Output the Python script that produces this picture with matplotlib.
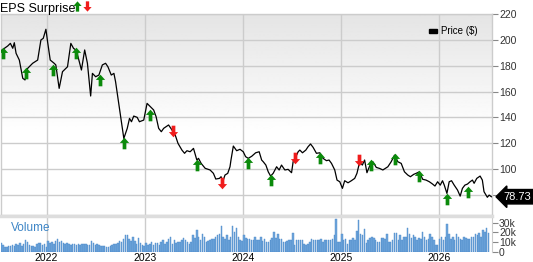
import numpy as np
import pandas as pd
import matplotlib
matplotlib.use('Agg')
import matplotlib.pyplot as plt
from matplotlib.path import Path
from matplotlib.transforms import blended_transform_factory

plt.rcParams['font.family'] = ['Liberation Sans', 'DejaVu Sans']

# price series (decimal year, price $)
price_t = [2021.536, 2021.604, 2021.631, 2021.655, 2021.671, 2021.689, 2021.722, 2021.757, 2021.780,
           2021.807, 2021.858, 2021.909, 2021.942, 2021.966, 2021.993, 2022.010, 2022.037, 2022.077,
           2022.094, 2022.128, 2022.162, 2022.213, 2022.247, 2022.274, 2022.297, 2022.320, 2022.355,
           2022.388, 2022.416, 2022.449, 2022.467, 2022.500, 2022.533, 2022.568, 2022.601, 2022.625,
           2022.659, 2022.686, 2022.703, 2022.787, 2022.822, 2022.845, 2022.865, 2022.888, 2022.923,
           2022.946, 2022.990, 2023.024, 2023.058, 2023.091, 2023.116, 2023.142, 2023.169, 2023.193,
           2023.243, 2023.278, 2023.311, 2023.339, 2023.379, 2023.406, 2023.430, 2023.463, 2023.497,
           2023.531, 2023.548, 2023.575, 2023.616, 2023.666, 2023.700, 2023.724, 2023.761, 2023.778,
           2023.795, 2023.818, 2023.846, 2023.869, 2023.879, 2023.903, 2023.937, 2023.971, 2024.004,
           2024.028, 2024.055, 2024.090, 2024.130, 2024.166, 2024.191, 2024.207, 2024.234, 2024.258,
           2024.282, 2024.308, 2024.343, 2024.369, 2024.393, 2024.427, 2024.460, 2024.495, 2024.511,
           2024.539, 2024.562, 2024.579, 2024.606, 2024.640, 2024.663, 2024.688, 2024.714, 2024.748,
           2024.782, 2024.815, 2024.850, 2024.876, 2024.901, 2024.934, 2024.957, 2024.985, 2025.012,
           2025.035, 2025.069, 2025.103, 2025.137, 2025.160, 2025.188, 2025.215, 2025.238, 2025.262,
           2025.289, 2025.322, 2025.357, 2025.391, 2025.424, 2025.475, 2025.509, 2025.543, 2025.576,
           2025.611, 2025.644, 2025.678, 2025.705, 2025.738, 2025.763, 2025.796, 2025.830, 2025.864,
           2025.898, 2025.931, 2025.955, 2025.982, 2026.009, 2026.032, 2026.050, 2026.077, 2026.100,
           2026.124, 2026.151, 2026.185, 2026.212, 2026.235, 2026.260, 2026.286, 2026.313, 2026.337,
           2026.354, 2026.381, 2026.415, 2026.438, 2026.455, 2026.489, 2026.507, 2026.530]
price_v = [191.6, 195.3, 197.3, 193.5, 197.8, 189.6, 184.4, 170.3, 169.0,
           178.0, 181.9, 184.4, 199.9, 201.2, 208.2, 198.6, 184.4, 181.9,
           180.6, 162.5, 175.4, 179.2, 197.3, 193.5, 192.2, 187.0, 176.7,
           192.2, 181.9, 156.6, 174.1, 171.5, 172.8, 180.6, 181.9, 179.2,
           172.8, 174.1, 167.6, 123.8, 131.6, 139.3, 136.7, 141.1, 140.1,
           136.7, 138.0, 150.9, 148.3, 145.8, 140.6, 131.6, 129.0, 131.6,
           134.2, 130.3, 126.4, 120.0, 114.8, 112.3, 114.3, 113.5, 116.1,
           107.1, 108.4, 104.5, 100.7, 99.4, 96.8, 92.4, 92.9, 94.2,
           90.3, 95.5, 96.8, 101.9, 107.1, 117.9, 114.3, 115.4, 113.5,
           109.7, 108.4, 110.0, 112.7, 113.5, 107.1, 105.8, 103.2, 98.0,
           94.7, 96.8, 101.9, 99.4, 103.2, 99.4, 99.9, 97.3, 105.8,
           109.7, 113.5, 114.8, 112.7, 114.8, 117.4, 119.5, 116.9, 112.3,
           112.7, 108.4, 106.6, 107.1, 104.5, 99.4, 91.6, 90.3, 85.2,
           91.1, 89.5, 91.1, 92.9, 96.8, 105.8, 103.2, 107.1, 97.3,
           102.4, 105.8, 101.4, 100.6, 99.4, 101.9, 105.8, 110.9, 105.8,
           104.5, 98.0, 95.5, 94.2, 96.0, 96.8, 98.0, 92.2, 91.6,
           90.3, 88.5, 87.0, 90.3, 87.7, 91.1, 87.7, 81.3, 90.3,
           91.1, 87.7, 83.9, 79.2, 85.2, 87.7, 88.5, 90.3, 91.6,
           89.1, 92.9, 94.7, 91.6, 82.6, 78.3, 80.0, 78.73]
last_price = 78.73

# EPS surprise markers (decimal year, price level of the marker)
beat_t = [2021.554, 2021.790, 2022.061, 2022.297, 2022.541, 2022.787, 2023.058, 2023.531,
          2024.055, 2024.282, 2024.782, 2025.306, 2025.543, 2025.789, 2026.077, 2026.293]
beat_v = [189.6, 174.1, 176.7, 189.6, 169.0, 120.0, 141.9, 103.2,
          104.5, 91.6, 108.4, 103.2, 107.6, 94.7, 76.7, 82.6]
miss_t = [2023.288, 2023.785, 2024.528, 2025.181]
miss_v = [129.5, 89.5, 108.4, 107.1]

# weekly volume (thousands), from 2021-07-16
vol_2021 = [9, 7, 5, 5, 6, 6, 7, 6, 8, 7, 9, 6, 8, 12, 10, 7, 6, 6, 5, 8, 9, 9, 7, 8]
vol_2022 = [5, 11, 9, 10, 8, 11, 13, 10, 11, 9, 8, 9, 8, 7, 8, 8, 7, 8, 7, 8, 8, 8, 7, 7, 11, 9,
            7, 8, 7, 6, 6, 6, 5, 5, 6, 7, 8, 8, 9, 11, 10, 13, 17, 17, 13, 11, 15, 11, 8, 14, 9, 7]
vol_2023 = [6, 9, 7, 8, 10, 7, 9, 9, 7, 10, 12, 8, 10, 13, 15, 8, 12, 9, 10, 10, 12, 14, 12, 10, 8, 10,
            17, 14, 22, 15, 12, 18, 15, 10, 11, 12, 13, 13, 15, 17, 18, 27, 15, 13, 17, 12, 15, 27, 20, 24, 15, 12]
vol_2024 = [11, 17, 14, 13, 13, 12, 12, 15, 12, 12, 15, 11, 13, 10, 10, 12, 14, 20, 14, 18, 13, 13, 10, 10, 11, 12,
            12, 19, 7, 12, 12, 12, 12, 8, 7, 8, 10, 13, 12, 12, 12, 12, 13, 10, 12, 12, 12, 12, 13, 17, 34, 10]
vol_2025 = [10, 18, 12, 13, 8, 12, 12, 14, 12, 21, 33, 18, 17, 23, 9, 12, 14, 15, 14, 12, 10, 10, 14, 14, 13, 18,
            10, 10, 12, 19, 19, 12, 17, 12, 15, 15, 24, 18, 14, 17, 15, 12, 14, 13, 20, 15, 12, 13, 18, 15, 12, 7]
vol_2026 = [7, 13, 15, 12, 15, 29, 18, 13, 15, 12, 18, 15, 13, 12, 15, 14, 13, 13, 15, 15, 18, 17, 19, 15, 22, 20, 24, 19]

years = [2022, 2023, 2024, 2025, 2026]
price_ticks = [80, 100, 120, 140, 160, 180, 200, 220]
# the 80 label sits under the last-price tag
price_labels = ['', '100', '120', '140', '160', '180', '200', '220']
vol_ticks = [0, 10, 20, 30]
vol_labels = ['0', '10k', '20k', '30k']


def dec_to_date(y):
    yr = int(y)
    a = pd.Timestamp(yr, 1, 1)
    b = pd.Timestamp(yr + 1, 1, 1)
    return a + (b - a) * (y - yr)


pt = [dec_to_date(v) for v in price_t]
volume = vol_2021 + vol_2022 + vol_2023 + vol_2024 + vol_2025 + vol_2026
vol_dates = pd.date_range('2021-07-16', periods=len(volume), freq='7D')
x0 = dec_to_date(2021.536)
x1 = dec_to_date(2026.537)

# arrow markers
up_arrow = Path([(-0.8, 0.1), (0, 1), (0.8, 0.1), (0.32, 0.1), (0.32, -1), (-0.32, -1), (-0.32, 0.1), (-0.8, 0.1)],
                [Path.MOVETO] + [Path.LINETO] * 6 + [Path.CLOSEPOLY])
down_arrow = Path([(x, -y) for x, y in up_arrow.vertices], up_arrow.codes)
GREEN = '#0b8a0b'
RED = '#f01c1c'
GRID = '#cccccc'
TXT = '#333333'

fig = plt.figure(figsize=(5.33, 2.62), dpi=100)
W, H = 533.0, 262.0
rect_p = [0.002, (H - 215) / H, 491 / W, (215 - 14) / H]
rect_v = [0.002, (H - 252) / H, 491 / W, (252 - 216) / H]

# gradient background for price panel
bg = fig.add_axes(rect_p, zorder=0)
grad = np.interp(np.linspace(0, 1, 200), [0, 0.6, 1], [0.895, 1.0, 1.0]).reshape(-1, 1)
bg.imshow(grad, cmap='gray', vmin=0, vmax=1, aspect='auto', extent=[0, 1, 0, 1])
bg.axis('off')

ax = fig.add_axes(rect_p, zorder=1)
ax.patch.set_alpha(0)
ax.plot(pt, price_v, color='black', lw=0.9, zorder=3)
ax.scatter([dec_to_date(v) for v in beat_t], beat_v, marker=up_arrow, s=70, color=GREEN, lw=0, zorder=4)
ax.scatter([dec_to_date(v) for v in miss_t], miss_v, marker=down_arrow, s=70, color=RED, lw=0, zorder=4)
ax.set_xlim(x0, x1)
ax.set_ylim(64.6, 220)
ax.yaxis.tick_right()
ax.set_yticks(price_ticks)
ax.set_yticklabels(price_labels)
ax.set_xticks([pd.Timestamp(y, 1, 1) for y in years])
ax.tick_params(axis='x', length=0, labelbottom=False)
ax.tick_params(axis='y', length=4, width=0.8, color='#888888', labelsize=7.5, labelcolor=TXT, pad=1)
ax.grid(True, color=GRID, lw=1)
for s in ax.spines.values():
    s.set_color(GRID)
    s.set_linewidth(1)

# last price tag
tr = blended_transform_factory(ax.transAxes, ax.transData)
ax.text(1.024, last_price, '%.2f' % last_price, transform=tr, color='white', fontsize=8,
        va='center', ha='left', zorder=10, clip_on=False,
        bbox=dict(boxstyle='larrow,pad=0.2', fc='black', ec='black'))

# legend
ax.add_patch(plt.Rectangle((0.872, 0.905), 0.016, 0.018, transform=ax.transAxes, color='black', zorder=5))
ax.text(0.897, 0.914, 'Price ($)', transform=ax.transAxes, fontsize=7, color='black', va='center', ha='left')

# title with arrows
fig.text(0.0, 0.99, 'EPS Surprise', fontsize=9, color='black', va='top', ha='left')
ax_t = fig.add_axes([0, 0, 1, 1], zorder=5)
ax_t.set_xlim(0, W)
ax_t.set_ylim(H, 0)
ax_t.axis('off')
ax_t.scatter([76.5], [5.5], marker=up_arrow, s=55, color=GREEN, lw=0)
ax_t.scatter([86.5], [5.5], marker=down_arrow, s=55, color=RED, lw=0)

# volume panel
axv = fig.add_axes(rect_v, zorder=1)
axv.bar(vol_dates, volume, width=5.5, color='#6fa6dc', edgecolor='#4a88c8', lw=0.3, zorder=3)
axv.set_xlim(x0, x1)
axv.set_ylim(0, 36.7)
axv.yaxis.tick_right()
axv.set_yticks(vol_ticks)
axv.set_yticklabels(vol_labels)
axv.set_xticks([pd.Timestamp(y, 1, 1) for y in years])
axv.set_xticklabels([str(y) for y in years])
axv.tick_params(axis='x', length=0, labelsize=7.5, labelcolor='black', pad=0.5)
axv.tick_params(axis='y', length=4, width=0.8, color='#888888', labelsize=7.5, labelcolor=TXT, pad=1)
axv.grid(True, axis='x', color=GRID, lw=1)
for s in axv.spines.values():
    s.set_visible(False)
axv.spines['top'].set_visible(True)
axv.spines['top'].set_color('#dddddd')
axv.spines['top'].set_linewidth(2.5)
axv.spines['right'].set_visible(True)
axv.spines['right'].set_color(GRID)
axv.text(0.02, 0.68, 'Volume', transform=axv.transAxes, fontsize=8.5, color='#3d85c6', va='center', ha='left')

fig.savefig('out.png', dpi=100)
